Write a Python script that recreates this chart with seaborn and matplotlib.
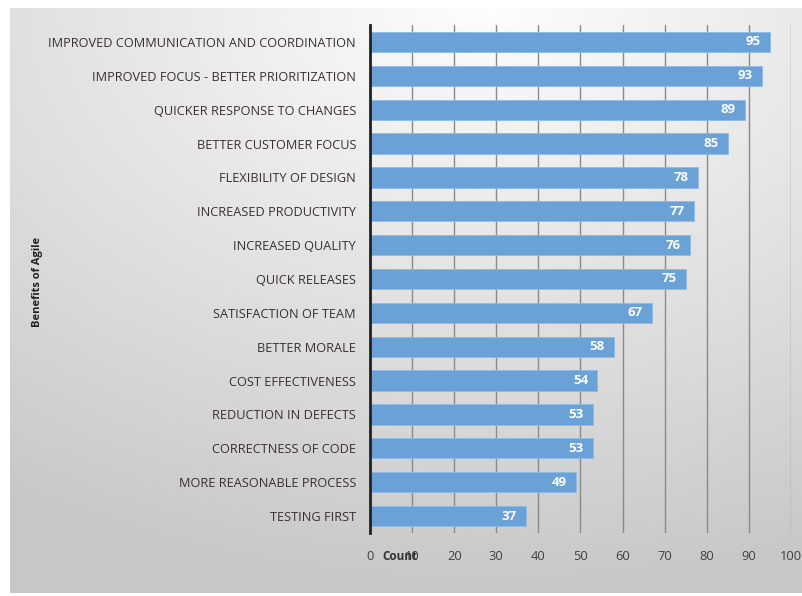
import numpy as np
import pandas as pd
import matplotlib
matplotlib.use("Agg")
import matplotlib.pyplot as plt
import seaborn as sns

benefits = [
    "IMPROVED COMMUNICATION AND COORDINATION",
    "IMPROVED FOCUS - BETTER PRIORITIZATION",
    "QUICKER RESPONSE TO CHANGES",
    "BETTER CUSTOMER FOCUS",
    "FLEXIBILITY OF DESIGN",
    "INCREASED PRODUCTIVITY",
    "INCREASED QUALITY",
    "QUICK RELEASES",
    "SATISFACTION OF TEAM",
    "BETTER MORALE",
    "COST EFFECTIVENESS",
    "REDUCTION IN DEFECTS",
    "CORRECTNESS OF CODE",
    "MORE REASONABLE PROCESS",
    "TESTING FIRST",
]
counts = [95, 93, 89, 85, 78, 77, 76, 75, 67, 58, 54, 53, 53, 49, 37]
x_ticks = [0, 10, 20, 30, 40, 50, 60, 70, 80, 90, 100]

df = pd.DataFrame({"benefit": benefits, "count": counts})

sns.set_theme(style="white")
plt.rcParams["font.family"] = ["Open Sans", "DejaVu Sans"]

fig = plt.figure(figsize=(8.03, 5.96), dpi=100)
fig.patch.set_facecolor("white")

# soft grey backdrop panel with a light spot near the top
bg = fig.add_axes([10 / 803, 3 / 596, 793 / 803, 585 / 596], zorder=0)
yy, xx = np.mgrid[0:1:300j, 0:1:400j]
dist = np.sqrt(((xx - 0.6) * 1.0) ** 2 + ((yy - 0.0) * 1.1) ** 2)
shade = 0.99 - 0.21 * np.clip(dist, 0, 1.1) / 1.1
bg.imshow(shade, cmap="gray", vmin=0, vmax=1, aspect="auto", extent=[0, 1, 1, 0])
bg.set_axis_off()

ax = fig.add_axes([370 / 803, 1 - 533 / 596, 421 / 803, 508 / 596], zorder=1)
ax.patch.set_alpha(0)

sns.barplot(data=df, x="count", y="benefit", orient="h", color="#6aa2d8",
            saturation=1, width=0.6, ax=ax, edgecolor="#8dbbe6",
            linewidth=0.6, zorder=2)

ax.set_xlim(0, 100)
ax.set_ylim(14.5, -0.5)
ax.set_xticks(x_ticks)
ax.set_xticklabels([str(t) for t in x_ticks], fontsize=9.3, color="#404040")
ax.tick_params(axis="x", length=0, pad=12)
ax.tick_params(axis="y", length=0, pad=10, labelsize=9.2, labelcolor="#3a3030")
ax.xaxis.grid(True, color="#8a8a8a", linewidth=1, zorder=1)
ax.set_axisbelow(True)
for side in ["top", "right", "bottom"]:
    ax.spines[side].set_visible(False)
ax.spines["left"].set_color("#222222")
ax.spines["left"].set_linewidth(2)
ax.spines["left"].set_zorder(3)

for bar, val in zip(ax.patches, counts):
    y = bar.get_y() + bar.get_height() / 2
    ax.text(val - 2.2, y, str(val), ha="right", va="center", color="white",
            fontsize=9.5, fontweight="bold", zorder=4)

ax.set_xlabel("")
ax.set_ylabel("")
fig.text(400 / 803, 1 - 556 / 596, "Count", ha="center", va="center",
         fontsize=8.5, fontweight="bold", color="#333333")
fig.text(38 / 803, 1 - 282 / 596, "Benefits of Agile", ha="center", va="center",
         rotation=90, fontsize=8, fontweight="bold", color="#222222")

fig.savefig("out.png", dpi=100)
